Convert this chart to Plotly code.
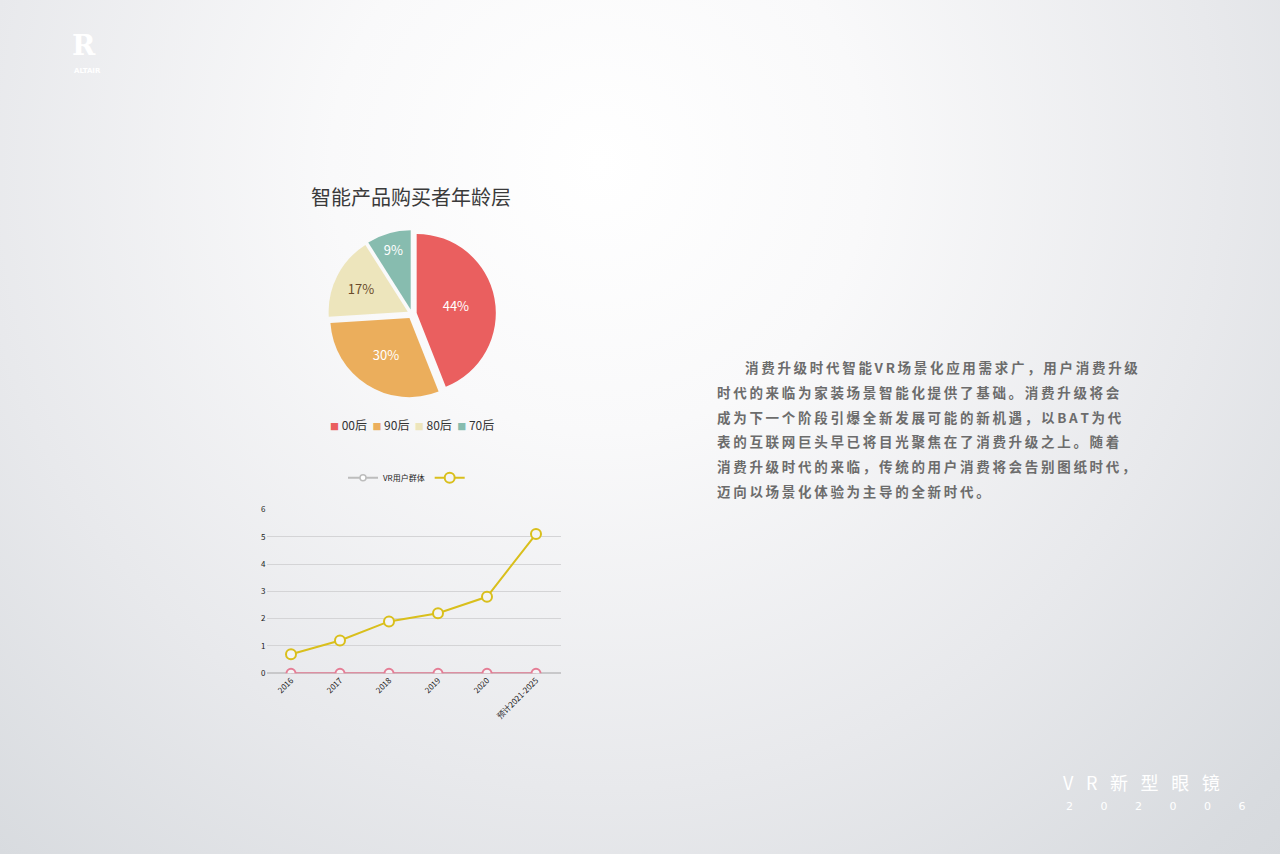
import base64
import plotly.graph_objects as go

# ---------------- data ----------------
pie_labels = ["00后", "90后", "80后", "70后"]
pie_values = [44, 30, 17, 9]
pie_colors = ["#EA5F5F", "#EBAE5C", "#EDE5BC", "#87BCAF"]
pie_text_colors = ["#ffffff", "#ffffff", "#6b4b2b", "#ffffff"]

years = ["2016", "2017", "2018", "2019", "2020", "预计2021-2025"]
vr_users = [0.7, 1.2, 1.9, 2.2, 2.8, 5.1]
zero_series = [0, 0, 0, 0, 0, 0]
y_ticks = [0, 1, 2, 3, 4, 5, 6]

para_lines = [
    "消费升级时代智能VR场景化应用需求广，用户消费升级",
    "时代的来临为家装场景智能化提供了基础。消费升级将会",
    "成为下一个阶段引爆全新发展可能的新机遇，以BAT为代",
    "表的互联网巨头早已将目光聚焦在了消费升级之上。随着",
    "消费升级时代的来临，传统的用户消费将会告别图纸时代，",
    "迈向以场景化体验为主导的全新时代。",
]

W, H = 1280, 854
FONT = "Noto Sans CJK SC"

def spaced(s, sep="\u2009"):
    return sep.join(list(s))

fig = go.Figure()

# background gradient
svg = f'''<svg xmlns="http://www.w3.org/2000/svg" width="{W}" height="{H}" viewBox="0 0 {W} {H}" preserveAspectRatio="none">
<defs><radialGradient id="g" gradientUnits="userSpaceOnUse" cx="600" cy="170" r="1050">
<stop offset="0" stop-color="#ffffff"/>
<stop offset="0.25" stop-color="#f9f9fa"/>
<stop offset="0.58" stop-color="#e8e9ec"/>
<stop offset="0.85" stop-color="#d8dbdf"/>
<stop offset="1" stop-color="#d3d6da"/>
</radialGradient></defs>
<rect width="{W}" height="{H}" fill="url(#g)"/></svg>'''
src = "data:image/svg+xml;base64," + base64.b64encode(svg.encode()).decode()

# ---------------- pie ----------------
fig.add_trace(go.Pie(
    labels=pie_labels, values=pie_values,
    marker=dict(colors=pie_colors, line=dict(width=0)),
    sort=False, direction="clockwise", rotation=0,
    pull=[0.06, 0.06, 0.06, 0.06],
    textinfo="percent", texttemplate="%{percent:.0%}",
    textposition="inside", insidetextorientation="horizontal",
    textfont=dict(family=FONT, size=13, color=pie_text_colors),
    domain=dict(x=[327 / W, 497 / W], y=[1 - 397 / H, 1 - 227 / H]),
    showlegend=False,
    hoverinfo="label+percent",
))

# ---------------- line chart ----------------
fig.add_trace(go.Scatter(
    x=years, y=zero_series, mode="lines+markers", name="VR用户群体",
    line=dict(color="#E57D95", width=2),
    marker=dict(symbol="circle", size=9, color="#f4f4f5", line=dict(color="#E57D95", width=2)),
    xaxis="x", yaxis="y", showlegend=False,
))
fig.add_trace(go.Scatter(
    x=[None], y=[None], mode="lines+markers", name="VR用户群体",
    line=dict(color="#BDBDBD", width=2),
    marker=dict(symbol="circle", size=6, color="#ffffff", line=dict(color="#BDBDBD", width=1.5)),
    xaxis="x", yaxis="y",
))
fig.add_trace(go.Scatter(
    x=years, y=vr_users, mode="lines+markers", name=" ",
    line=dict(color="#D9BF1C", width=2),
    marker=dict(symbol="circle", size=10, color="#f4f4f5", line=dict(color="#D9BF1C", width=2)),
    xaxis="x", yaxis="y",
))

ann = []
ann.append(dict(text="智能产品购买者年龄层", x=411 / W, y=1 - 193 / H, xref="paper", yref="paper",
                showarrow=False, font=dict(family=FONT, size=20, color="#3a3a3a"), xanchor="center", yanchor="middle"))

# pie legend (compact, as in the reference)
leg_parts = []
for lab, col in zip(pie_labels, pie_colors):
    leg_parts.append(f"<span style='color:{col};font-size:9px'>■</span> {lab}")
ann.append(dict(text="  ".join(leg_parts), x=412 / W, y=1 - 424 / H, xref="paper", yref="paper",
                showarrow=False, xanchor="center", yanchor="middle",
                font=dict(family=FONT, size=12, color="#333333")))

# paragraph
for i, line in enumerate(para_lines):
    x0 = 743 if i == 0 else 715
    ann.append(dict(text="<b>" + spaced(line) + "</b>", x=x0 / W, y=1 - (366 + 25 * i) / H,
                    xref="paper", yref="paper", showarrow=False, xanchor="left", yanchor="middle",
                    font=dict(family=FONT, size=13.5, color="#6c6c6c")))

# footer
ann.append(dict(text=spaced("VR新型眼镜", "\u2002\u2009"), x=1222 / W, y=1 - 786 / H, xref="paper", yref="paper",
                showarrow=False, xanchor="right", yanchor="middle",
                font=dict(family=FONT, size=18, color="#ffffff")))
ann.append(dict(text="\u2003\u2003\u2002".join(list("202006")),
                x=1248 / W, y=1 - 811 / H, xref="paper", yref="paper",
                showarrow=False, xanchor="right", yanchor="middle",
                font=dict(family="DejaVu Sans", size=11, color="#ffffff")))

# logo
ann.append(dict(text="<b>R</b>", x=70 / W, y=1 - 40 / H, xref="paper", yref="paper", showarrow=False,
                font=dict(family="DejaVu Serif", size=28, color="#ffffff"), yanchor="middle"))
ann.append(dict(text="<b>ALTAIR</b>", x=72 / W, y=1 - 66 / H, xref="paper", yref="paper", showarrow=False,
                font=dict(family="DejaVu Sans", size=7, color="#ffffff"), yanchor="middle"))

fig.update_layout(
    width=W, height=H,
    margin=dict(l=0, r=0, t=0, b=0),
    paper_bgcolor="#e4e6e9", plot_bgcolor="rgba(0,0,0,0)",
    images=[dict(source=src, xref="paper", yref="paper", x=-0.01, y=1.02, sizex=1.02, sizey=1.04,
                 sizing="stretch", layer="below", xanchor="left", yanchor="top")],
    font=dict(family=FONT),
    xaxis=dict(domain=[266.5 / W, 560.5 / W], anchor="y", type="category", range=[-0.5, 5.5],
               showgrid=False, showline=False, zeroline=False, ticks="", tickangle=-45,
               tickfont=dict(family=FONT, size=8, color="#222222")),
    yaxis=dict(domain=[1 - 676 / H, 1 - 510 / H], anchor="x", range=[0, 6], tickvals=y_ticks,
               showgrid=True, gridcolor="#d4d4d6", gridwidth=1, zeroline=True, zerolinecolor="#c8c8ca",
               showline=False, ticks="", tickfont=dict(family=FONT, size=8, color="#222222")),
    legend=dict(orientation="h", x=410 / W, y=1 - 478 / H, xanchor="center", yanchor="middle",
                font=dict(family=FONT, size=8, color="#222222"), bgcolor="rgba(0,0,0,0)", itemwidth=30),
    annotations=ann,
    showlegend=True,
)

fig.write_html("out.html", config={"displayModeBar": False},
               post_script="document.body.style.margin='0';document.body.style.overflow='hidden';")
